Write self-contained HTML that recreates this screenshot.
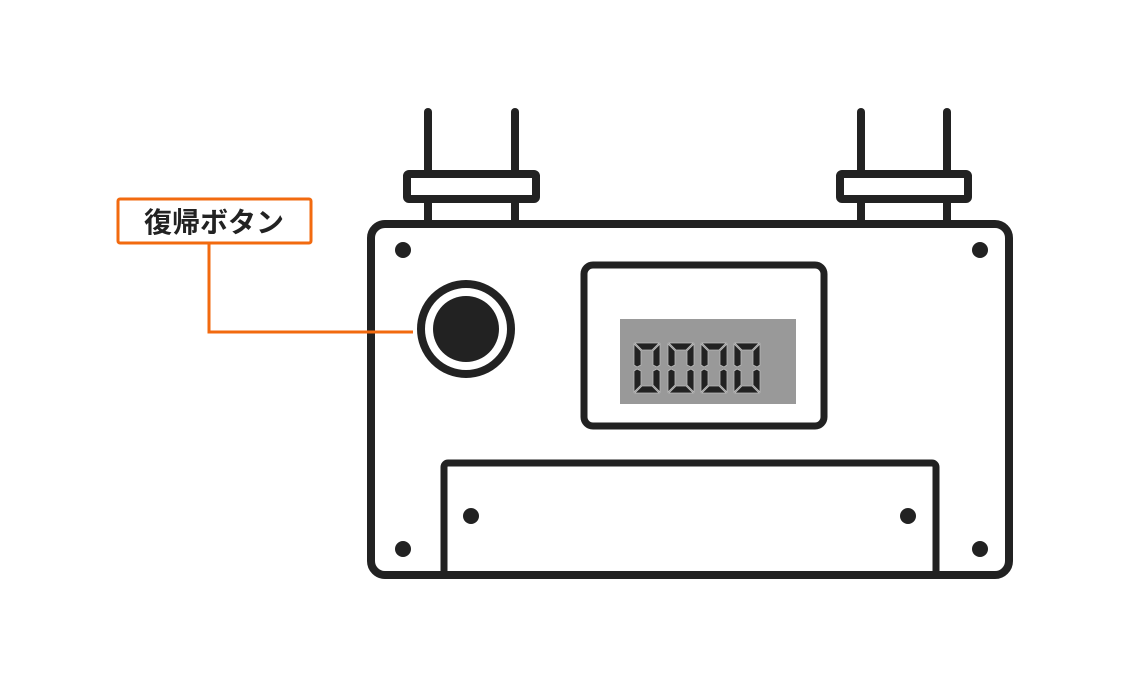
<!DOCTYPE html>
<html><head><meta charset="utf-8"><style>
html,body{margin:0;padding:0;background:#fff;width:1145px;height:681px;overflow:hidden}
</style></head><body>
<svg width="1145" height="681" viewBox="0 0 1145 681" xmlns="http://www.w3.org/2000/svg">
<g stroke="#222" stroke-width="8" fill="none" stroke-linecap="round" stroke-linejoin="round">
<line x1="428" y1="112" x2="428" y2="223"/><line x1="515" y1="112" x2="515" y2="223"/>
<line x1="861" y1="112" x2="861" y2="223"/><line x1="947" y1="112" x2="947" y2="223"/>
<rect x="407" y="174" width="129" height="25" rx="2" fill="#fff"/>
<rect x="840" y="174" width="128" height="25" rx="2" fill="#fff"/>
<rect x="371" y="224" width="638" height="351" rx="14" fill="#fff"/>
<rect x="584" y="265" width="240" height="161" rx="9" stroke-width="7"/>
<path d="M444 575 V467 a4 4 0 0 1 4 -4 H932 a4 4 0 0 1 4 4 V575" stroke-width="7"/>
<circle cx="466" cy="329" r="45"/>
</g>
<circle cx="466" cy="329" r="33" fill="#222"/>
<g fill="#222">
<circle cx="403" cy="250" r="8"/><circle cx="980" cy="250" r="8"/>
<circle cx="403" cy="549" r="8"/><circle cx="980" cy="549" r="8"/>
<circle cx="471" cy="516" r="8"/><circle cx="908" cy="516" r="8"/>
</g>
<rect x="620" y="319" width="176" height="85" fill="#999"/>
<defs>
<g id="z" fill="#222" stroke="#bbb" stroke-width="0.8">
<polygon points="1,0 25,0 18,7 8,7"/>
<polygon points="0,1 7,8 7,22 3,24 0,22"/>
<polygon points="26,1 19,8 19,22 23,24 26,22"/>
<polygon points="0,28 3,26 7,28 7,42 0,49"/>
<polygon points="26,28 23,26 19,28 19,42 26,49"/>
<polygon points="1,50 8,43 18,43 25,50"/>
</g>
</defs>
<use href="#z" x="634" y="343"/><use href="#z" x="668" y="343"/>
<use href="#z" x="701" y="343"/><use href="#z" x="734" y="343"/>
<polyline points="209,243 209,332 413,332" fill="none" stroke="#f26a0f" stroke-width="3"/>
<rect x="118" y="199" width="193" height="44" rx="2" fill="#fff" stroke="#f26a0f" stroke-width="3"/>
<text x="214" y="232" text-anchor="middle" font-family="Liberation Sans, Noto Sans CJK JP, sans-serif" font-weight="bold" font-size="28" fill="#222">復帰ボタン</text>
</svg>
</body></html>
